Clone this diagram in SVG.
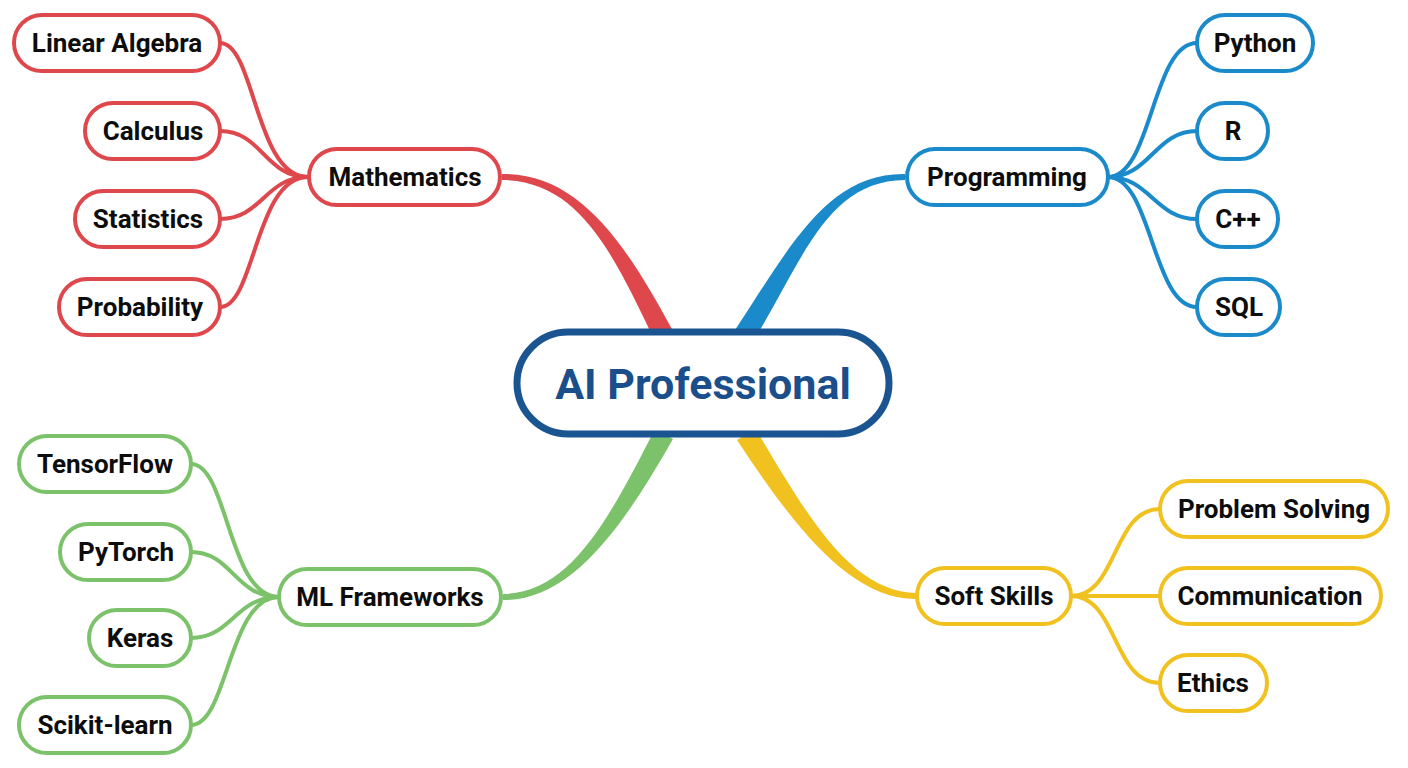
<svg xmlns="http://www.w3.org/2000/svg" width="1408" height="768" viewBox="0 0 1408 768">
<style>
  .node rect { fill: #ffffff; stroke-width: 4; }
  .center rect { fill: #ffffff; stroke: #1a5592; stroke-width: 7; }
  .lbl { font-family: Roboto, "Liberation Sans", sans-serif; font-weight: 700; font-size: 26px; fill: #0d0d0d; text-anchor: middle; dominant-baseline: central; }
  .clbl { font-family: Roboto, "Liberation Sans", sans-serif; font-weight: 700; font-size: 43px; fill: #1b4f8c; text-anchor: middle; dominant-baseline: central; }
  .red rect { stroke: #de474c; }
  .blue rect { stroke: #1a8acb; }
  .green rect { stroke: #7cc26a; }
  .yellow rect { stroke: #f0c11f; }
  .link { fill: none; stroke-width: 4; stroke-linecap: round; }
  .lr { stroke: #de474c; } .lb { stroke: #1a8acb; } .lg { stroke: #7cc26a; } .ly { stroke: #f0c11f; }
</style>
<rect width="1408" height="768" fill="#ffffff"/>
<g id="connectors">
  <!-- main branches -->
  <path d="M502,174 C580,173 627,246 673,331 L655,341 C613,254 580,181 502,180 Z" fill="#de474c"/>
  <path d="M905,174 C828,173 791,245 735,330 L753,342 C805,255 828,181 905,180 Z" fill="#1a8acb"/>
  <path d="M503,594 C570,593 608,521 655,429 L673,439 C622,529 570,601 503,600 Z" fill="#7cc26a"/>
  <path d="M917,593 C850,592 807,515 755,428 L737,440 C793,525 850,600 917,599 Z" fill="#f0c11f"/>
  <!-- mathematics -->
  <path class="link lr" d="M220,43 C255,43 255,177 308,177"/>
  <path class="link lr" d="M220,131 C262,131 265,177 308,177"/>
  <path class="link lr" d="M220,219 C262,219 265,177 308,177"/>
  <path class="link lr" d="M220,307 C255,307 255,177 308,177"/>
  <!-- programming -->
  <path class="link lb" d="M1197,43 C1152,43 1152,177 1108,177"/>
  <path class="link lb" d="M1197,131 C1155,131 1150,177 1108,177"/>
  <path class="link lb" d="M1197,219 C1155,219 1150,177 1108,177"/>
  <path class="link lb" d="M1197,307 C1152,307 1152,177 1108,177"/>
  <!-- ml frameworks -->
  <path class="link lg" d="M191,464 C228,464 228,597 279,597"/>
  <path class="link lg" d="M191,552 C232,552 235,597 279,597"/>
  <path class="link lg" d="M191,638 C232,638 235,597 279,597"/>
  <path class="link lg" d="M191,725 C228,725 228,597 279,597"/>
  <!-- soft skills -->
  <path class="link ly" d="M1071,596 C1118,596 1112,509 1160,509"/>
  <path class="link ly" d="M1071,596 L1160,596"/>
  <path class="link ly" d="M1071,596 C1118,596 1112,683 1160,683"/>
</g>
<g id="center" class="center">
  <rect x="517" y="332" width="372" height="102" rx="51"/>
  <text class="clbl" x="703" y="384">AI Professional</text>
</g>
<g id="mathematics" class="node red">
  <rect x="309" y="149" width="191" height="56" rx="28"/>
  <text class="lbl" x="405" y="177">Mathematics</text>
</g>
<g id="linear-algebra" class="node red">
  <rect x="14" y="15" width="206" height="56" rx="28"/>
  <text class="lbl" x="117" y="43">Linear Algebra</text>
</g>
<g id="calculus" class="node red">
  <rect x="85" y="103" width="135" height="56" rx="28"/>
  <text class="lbl" x="153" y="131">Calculus</text>
</g>
<g id="statistics" class="node red">
  <rect x="75" y="191" width="145" height="56" rx="28"/>
  <text class="lbl" x="148" y="219">Statistics</text>
</g>
<g id="probability" class="node red">
  <rect x="59" y="279" width="161" height="56" rx="28"/>
  <text class="lbl" x="140" y="307">Probability</text>
</g>
<g id="programming" class="node blue">
  <rect x="907" y="149" width="201" height="56" rx="28"/>
  <text class="lbl" x="1007" y="177">Programming</text>
</g>
<g id="python" class="node blue">
  <rect x="1197" y="15" width="116" height="56" rx="28"/>
  <text class="lbl" x="1255" y="43">Python</text>
</g>
<g id="r" class="node blue">
  <rect x="1197" y="103" width="71" height="56" rx="28"/>
  <text class="lbl" x="1233" y="131">R</text>
</g>
<g id="cpp" class="node blue">
  <rect x="1197" y="191" width="81" height="56" rx="28"/>
  <text class="lbl" x="1238" y="219">C++</text>
</g>
<g id="sql" class="node blue">
  <rect x="1197" y="279" width="83" height="56" rx="28"/>
  <text class="lbl" x="1239" y="307">SQL</text>
</g>
<g id="ml-frameworks" class="node green">
  <rect x="279" y="569" width="222" height="56" rx="28"/>
  <text class="lbl" x="390" y="597">ML Frameworks</text>
</g>
<g id="tensorflow" class="node green">
  <rect x="19" y="436" width="172" height="56" rx="28"/>
  <text class="lbl" x="105" y="464">TensorFlow</text>
</g>
<g id="pytorch" class="node green">
  <rect x="60" y="524" width="131" height="56" rx="28"/>
  <text class="lbl" x="126" y="552">PyTorch</text>
</g>
<g id="keras" class="node green">
  <rect x="89" y="610" width="102" height="56" rx="28"/>
  <text class="lbl" x="140" y="638">Keras</text>
</g>
<g id="scikit-learn" class="node green">
  <rect x="19" y="697" width="172" height="56" rx="28"/>
  <text class="lbl" x="105" y="725">Scikit-learn</text>
</g>
<g id="soft-skills" class="node yellow">
  <rect x="917" y="568" width="154" height="56" rx="28"/>
  <text class="lbl" x="994" y="596">Soft Skills</text>
</g>
<g id="problem-solving" class="node yellow">
  <rect x="1160" y="481" width="228" height="56" rx="28"/>
  <text class="lbl" x="1274" y="509">Problem Solving</text>
</g>
<g id="communication" class="node yellow">
  <rect x="1160" y="568" width="221" height="56" rx="28"/>
  <text class="lbl" x="1270" y="596">Communication</text>
</g>
<g id="ethics" class="node yellow">
  <rect x="1160" y="655" width="107" height="56" rx="28"/>
  <text class="lbl" x="1213" y="683">Ethics</text>
</g>
</svg>
